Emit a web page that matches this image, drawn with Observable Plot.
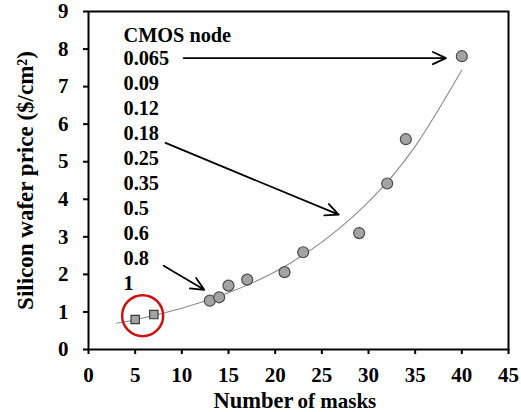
<!DOCTYPE html>
<html>
<head>
<meta charset="utf-8">
<script src="https://cdn.jsdelivr.net/npm/d3@7"></script>
<script src="https://cdn.jsdelivr.net/npm/@observablehq/plot@0.6"></script>
<style>
  html, body { margin: 0; padding: 0; background: #fff; }
</style>
</head>
<body>
<div id="chart"></div>
<script>
// ---- data ----
const squareMasks = [5, 7];
const squarePrice = [0.80, 0.93];
const circleMasks = [13, 14, 15, 17, 21, 23, 29, 32, 34, 40];
const circlePrice = [1.30, 1.39, 1.70, 1.86, 2.06, 2.59, 3.10, 4.42, 5.60, 7.81];
const trendMasks = [3, 5, 10, 15, 20, 25, 30, 35, 40];
const trendPrice = [0.70, 0.79, 1.10, 1.51, 2.07, 2.86, 3.93, 5.41, 7.44];
const nodeTitle = "CMOS node";
const nodes = ["0.065", "0.09", "0.12", "0.18", "0.25", "0.35", "0.5", "0.6", "0.8", "1"];
const xTicks = [0, 5, 10, 15, 20, 25, 30, 35, 40, 45];
const yTicks = [0, 1, 2, 3, 4, 5, 6, 7, 8, 9];
// annotation arrows (data units)
const arrowFrom = [[10.2, 7.76], [8.25, 5.50], [8.05, 2.23]];
const arrowTo   = [[38.3, 7.76], [26.8, 3.59], [12.4, 1.59]];
const highlight = [[5.8, 0.90]];

const squares = squareMasks.map((x, i) => ({x, y: squarePrice[i]}));
const circles = circleMasks.map((x, i) => ({x, y: circlePrice[i]}));
const trend = trendMasks.map((x, i) => ({x, y: trendPrice[i]}));
const arrows = arrowFrom.map((a, i) => ({x1: a[0], y1: a[1], x2: arrowTo[i][0], y2: arrowTo[i][1]}));
const nodeRows = nodes.map((n, i) => ({label: n, y: 7.74 - i * 0.664}));

const serif = "'Liberation Serif', 'Times New Roman', serif";

const chart = Plot.plot({
  width: 521,
  height: 412,
  marginLeft: 88,
  marginRight: 13,
  marginTop: 11,
  marginBottom: 63,
  style: {fontFamily: serif, fontWeight: "bold", fontSize: "21px", color: "#000", background: "#fff"},
  x: {domain: [0, 45]},
  y: {domain: [0, 9]},
  marks: [
    Plot.axisX({ticks: xTicks, tickSize: 5, tickPadding: 13, label: null, strokeWidth: 2, fontSize: 21}),
    Plot.axisY({ticks: yTicks, tickSize: 5, tickPadding: 15, label: null, strokeWidth: 2, fontSize: 21}),
    Plot.line(trend, {x: "x", y: "y", curve: "natural", stroke: "#8a8a8a", strokeWidth: 1.1}),
    Plot.dot(circles, {x: "x", y: "y", r: 5.5, fill: "#a3a3a3", stroke: "#4a4a4a", strokeWidth: 1.2}),
    Plot.dot(squares, {x: "x", y: "y", r: 4.7, symbol: "square", fill: "#a3a3a3", stroke: "#3a3a3a", strokeWidth: 1.2}),
    Plot.dot(highlight, {x: d => d[0], y: d => d[1], r: 20.5, fill: "none", stroke: "#cc1111", strokeWidth: 2.5}),
    Plot.arrow(arrows, {x1: "x1", y1: "y1", x2: "x2", y2: "y2", stroke: "#000", strokeWidth: 1.8, headLength: 12, headAngle: 50, bend: 0}),
    Plot.text([nodeTitle], {x: 3.75, y: 8.36, text: d => d, textAnchor: "start", fontSize: 20.3, fill: "#000"}),
    Plot.text(nodeRows, {x: 3.75, y: "y", text: "label", textAnchor: "start", fontSize: 20.3, fill: "#000"}),
    Plot.text(["Silicon wafer price ($/cm²)"], {frameAnchor: "left", text: d => d, textAnchor: "middle", rotate: -90, dx: -63, dy: 0, fontSize: 23, fill: "#000"}),
    Plot.text(["Number"], {frameAnchor: "bottom", text: d => d, textAnchor: "end", dx: -5, dy: 58, fontSize: 22.5, fill: "#000"}),
    Plot.text(["of masks"], {frameAnchor: "bottom", text: d => d, textAnchor: "start", dx: -1, dy: 58, fontSize: 21, fill: "#000"}),
    Plot.frame({stroke: "#000", strokeWidth: 2})
  ]
});
document.getElementById("chart").appendChild(chart);
</script>
</body>
</html>
